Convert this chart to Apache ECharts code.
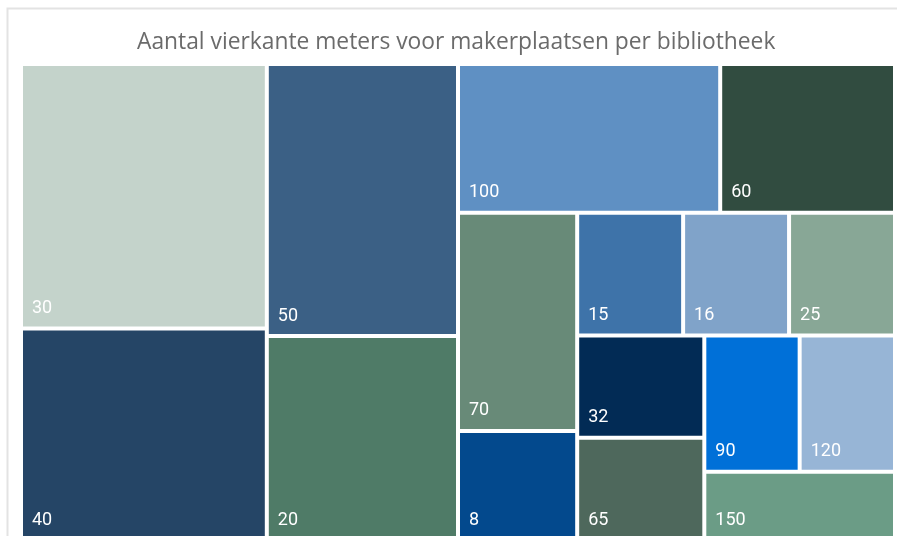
<!DOCTYPE html>
<html>
<head>
<meta charset="utf-8">
<script src="https://cdn.jsdelivr.net/npm/echarts@6/dist/echarts.min.js"></script>
<style>
html,body{margin:0;padding:0;background:#fff;}
#chart{width:897px;height:536px;}
</style>
</head>
<body>
<div id="chart"></div>
<script>
// Label shown in each tile (square meters)
const tileLabels = ['30','40','50','20','100','60','70','8','15','16','25','32','65','90','120','150'];
// Tile size measure (read from tile areas)
const tileValues = [5,4,4,3,3,2,2,1,1,1,1,1,1,1,1,1];
// Tile colours
const tileColors = ['#c4d3cb','#254566','#3b6085','#4f7b67','#5f90c3','#314c40','#688a78','#03498d',
                    '#3e73a9','#80a3c9','#88a796','#022b55','#4e685c','#0070d8','#97b5d6','#6b9c86'];
const titleText = 'Aantal vierkante meters voor makerplaatsen per bibliotheek';

const chart = echarts.init(document.getElementById('chart'));
const data = tileLabels.map((n, i) => ({
  name: n,
  value: tileValues[i],
  itemStyle: { color: tileColors[i] }
}));

chart.setOption({
  animation: false,
  title: {
    text: titleText,
    left: 132,
    top: 26,
    textStyle: { color: '#6b6b6b', fontSize: 22.8, fontWeight: 'normal', fontFamily: 'Open Sans' }
  },
  graphic: [{
    type: 'rect',
    shape: { x: 7.5, y: 8.5, width: 960, height: 600 },
    style: { fill: 'none', stroke: '#e3e3e3', lineWidth: 2 },
    silent: true
  }],
  series: [{
    type: 'treemap',
    left: 23, top: 66, width: 870, height: 472,
    sort: false,
    squareRatio: 0.9,
    roam: false,
    nodeClick: false,
    breadcrumb: { show: false },
    itemStyle: { borderWidth: 0, gapWidth: 4, borderColor: '#fff' },
    levels: [{ itemStyle: { borderWidth: 0, gapWidth: 4, borderColor: '#fff' } }],
    label: {
      show: true,
      position: 'insideBottomLeft',
      distance: 9,
      padding: 0,
      formatter: '{b}',
      color: '#ffffff',
      fontSize: 18,
      fontFamily: 'Roboto'
    },
    emphasis: { disabled: true },
    data: data
  }]
});
</script>
</body>
</html>
